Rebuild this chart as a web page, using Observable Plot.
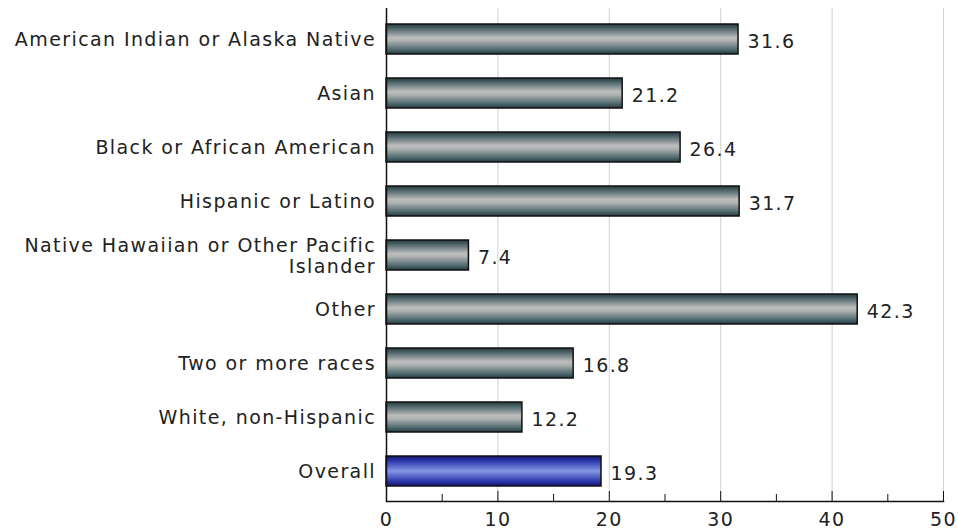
<!DOCTYPE html>
<html>
<head>
<meta charset="utf-8">
<script src="https://cdn.jsdelivr.net/npm/d3@7"></script>
<script src="https://cdn.jsdelivr.net/npm/@observablehq/plot@0.6"></script>
<style>
  html, body { margin: 0; padding: 0; background: #fff; }
</style>
</head>
<body>
<div id="chart"></div>
<script>
const categories = [
  "American Indian or Alaska Native",
  "Asian",
  "Black or African American",
  "Hispanic or Latino",
  "Native Hawaiian or Other Pacific\nIslander",
  "Other",
  "Two or more races",
  "White, non-Hispanic",
  "Overall"
];
const values = [31.6, 21.2, 26.4, 31.7, 7.4, 42.3, 16.8, 12.2, 19.3];
const highlight = "Overall";
const majorTicks = [0, 10, 20, 30, 40, 50];
const minorTicks = [5, 15, 25, 35, 45];
const gridTicks = [10, 20, 30, 40, 50];

const data = categories.map((c, i) => ({category: c, value: values[i]}));

const chart = Plot.plot({
  width: 958,
  height: 529,
  marginLeft: 386,
  marginRight: 15,
  marginTop: 8,
  marginBottom: 28,
  style: {fontFamily: "'DejaVu Sans', sans-serif", fontSize: "19px", letterSpacing: "1.4px", color: "#222", background: "#fff"},
  x: {domain: [0, 50]},
  y: {domain: categories, paddingInner: 0.45, paddingOuter: 0.225, label: null},
  marks: [
    Plot.gridX(gridTicks, {stroke: "#d0d0d0", strokeOpacity: 1}),
    Plot.barX(data.filter(d => d.category !== highlight), {x: "value", y: "category", fill: "url(#gradGray)", stroke: "#111", strokeWidth: 1.5}),
    Plot.barX(data.filter(d => d.category === highlight), {x: "value", y: "category", fill: "url(#gradBlue)", stroke: "#111", strokeWidth: 1.5}),
    Plot.text(data, {x: "value", y: "category", text: d => d.value.toFixed(1), textAnchor: "start", dx: 9, dy: 2, fontSize: 19, fill: "#222"}),
    Plot.axisY({tickSize: 0, tickPadding: 10.5, lineHeight: 1.1, fontSize: 19, label: null}),
    Plot.axisX(majorTicks, {tickSize: -10, tickPadding: 21, fontSize: 19, label: null, stroke: "#111"}),
    Plot.axisX(minorTicks, {tickSize: -7, text: null, label: null, stroke: "#111"}),
    Plot.ruleX([0], {stroke: "#111", strokeWidth: 1.5}),
    Plot.frame({anchor: "bottom", stroke: "#111", strokeWidth: 1.5})
  ]
});

const ns = "http://www.w3.org/2000/svg";
const defs = document.createElementNS(ns, "defs");
function addGrad(id, stops) {
  const g = document.createElementNS(ns, "linearGradient");
  g.setAttribute("id", id);
  g.setAttribute("x1", "0"); g.setAttribute("y1", "0");
  g.setAttribute("x2", "0"); g.setAttribute("y2", "1");
  for (const [o, c] of stops) {
    const s = document.createElementNS(ns, "stop");
    s.setAttribute("offset", o);
    s.setAttribute("stop-color", c);
    g.appendChild(s);
  }
  defs.appendChild(g);
}
addGrad("gradGray", [[0, "#26393e"], [0.15, "#4f666b"], [0.45, "#bcbcbc"], [0.55, "#b2b4b4"], [0.85, "#506a70"], [1, "#26393e"]]);
addGrad("gradBlue", [[0, "#12126e"], [0.15, "#2b35a8"], [0.5, "#8596e6"], [0.85, "#2b35a8"], [1, "#12126e"]]);
chart.insertBefore(defs, chart.firstChild);

document.getElementById("chart").appendChild(chart);
</script>
</body>
</html>
